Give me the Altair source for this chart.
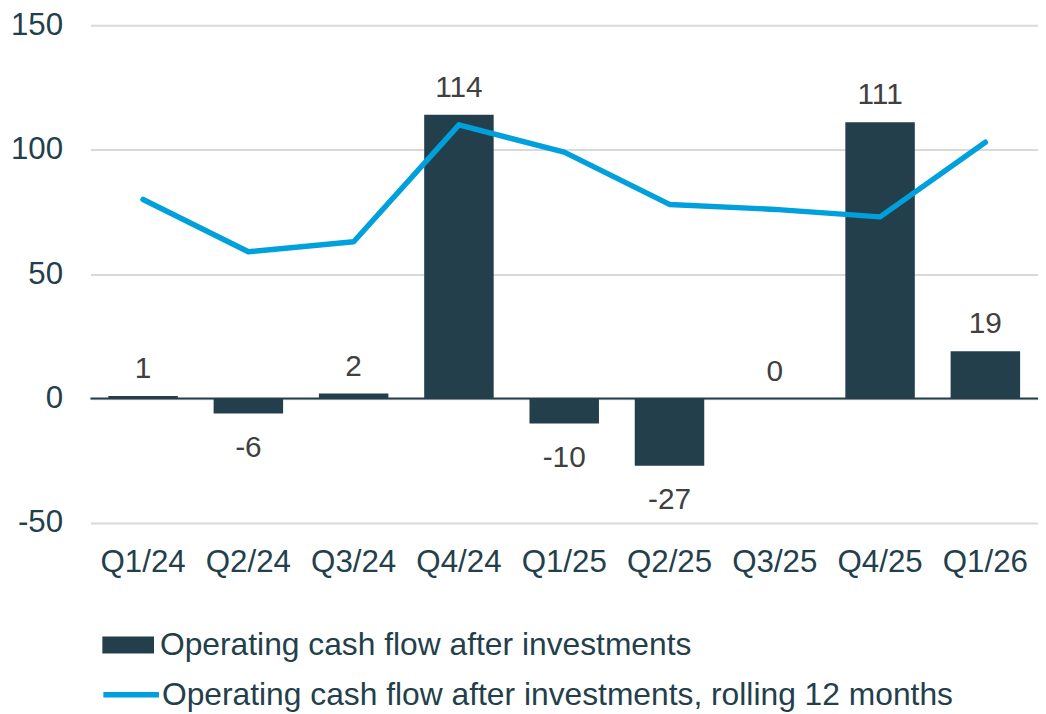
import altair as alt
import pandas as pd

quarters = ["Q1/24", "Q2/24", "Q3/24", "Q4/24", "Q1/25", "Q2/25", "Q3/25", "Q4/25", "Q1/26"]
cash_flow = [1, -6, 2, 114, -10, -27, 0, 111, 19]
rolling_12m = [80, 59, 63, 110, 99, 78, 76, 73, 103]
bar_name = "Operating cash flow after investments"
line_name = "Operating cash flow after investments, rolling 12 months"
y_ticks = [-50, 0, 50, 100, 150]

df = pd.DataFrame({
    "quarter": quarters,
    "cash_flow": cash_flow,
    "rolling": rolling_12m,
    "bar_series": bar_name,
    "line_series": line_name,
})
zero_df = pd.DataFrame({"zero": [0]})

FONT = "Liberation Sans"
TEAL = "#243f4c"
BLUE = "#00a0dc"
GRAY = "#404040"

x_enc = alt.X(
    "quarter:N", sort=quarters, title=None,
    scale=alt.Scale(paddingInner=0.34, paddingOuter=0.17),
    axis=alt.Axis(labelAngle=0, labelFont=FONT, labelFontSize=31.5, labelColor=TEAL,
                  labelPadding=24, domain=False, ticks=False, grid=False),
)
y_scale = alt.Scale(domain=[-50, 150], nice=False)
y_axis = alt.Axis(values=y_ticks, labelFont=FONT, labelFontSize=31.5, labelColor=TEAL,
                  labelPadding=28, domain=False, ticks=False, grid=True,
                  gridColor="#d9d9d9", gridWidth=2, labelExpr="'' + datum.value")

base = alt.Chart(df).transform_calculate(label="'' + datum.cash_flow")

bars = base.mark_bar().encode(
    x=x_enc,
    y=alt.Y("cash_flow:Q", scale=y_scale, axis=y_axis, title=None),
    fill=alt.Fill("bar_series:N",
                  scale=alt.Scale(domain=[bar_name], range=[TEAL]),
                  legend=alt.Legend(title=None, orient="none", legendX=12, legendY=598,
                                    symbolType="M-1,-0.33H1V0.33H-1Z", symbolSize=2704,
                                    symbolStrokeWidth=0, labelFont=FONT, labelFontSize=32,
                                    labelColor=TEAL, labelLimit=1000, labelOffset=6, padding=0)),
)

zero_rule = alt.Chart(zero_df).mark_rule(color=TEAL, strokeWidth=2).encode(
    y=alt.Y("zero:Q", scale=y_scale)
)

pos_labels = base.transform_filter("datum.cash_flow >= 0").mark_text(
    dy=-18, baseline="alphabetic", font=FONT, fontSize=30, color=GRAY
).encode(x=alt.X("quarter:N", sort=quarters), y=alt.Y("cash_flow:Q"), text="label:N")

neg_labels = base.transform_filter("datum.cash_flow < 0").mark_text(
    dy=20, baseline="top", font=FONT, fontSize=30, color=GRAY
).encode(x=alt.X("quarter:N", sort=quarters), y=alt.Y("cash_flow:Q"), text="label:N")

line = base.mark_line(strokeWidth=5.5, strokeCap="round", strokeJoin="round").encode(
    x=alt.X("quarter:N", sort=quarters),
    y=alt.Y("rolling:Q"),
    stroke=alt.Stroke("line_series:N",
                      scale=alt.Scale(domain=[line_name], range=[BLUE]),
                      legend=alt.Legend(title=None, orient="none", legendX=10, legendY=643,
                                        symbolType="stroke", symbolSize=3136,
                                        symbolStrokeWidth=5.5, labelFont=FONT, labelFontSize=32,
                                        labelColor=TEAL, labelLimit=1000, labelOffset=0,
                                        padding=0)),
)

chart = alt.layer(bars, zero_rule, pos_labels, neg_labels, line).resolve_legend(
    fill="independent", stroke="independent"
).properties(
    width=954, height=501,
    autosize=alt.AutoSizeParams(type="none"),
    padding={"left": 83, "top": 15, "right": 0, "bottom": 190},
).configure_view(stroke=None)

chart.save("out.html", embed_options={"renderer": "svg", "actions": False})
